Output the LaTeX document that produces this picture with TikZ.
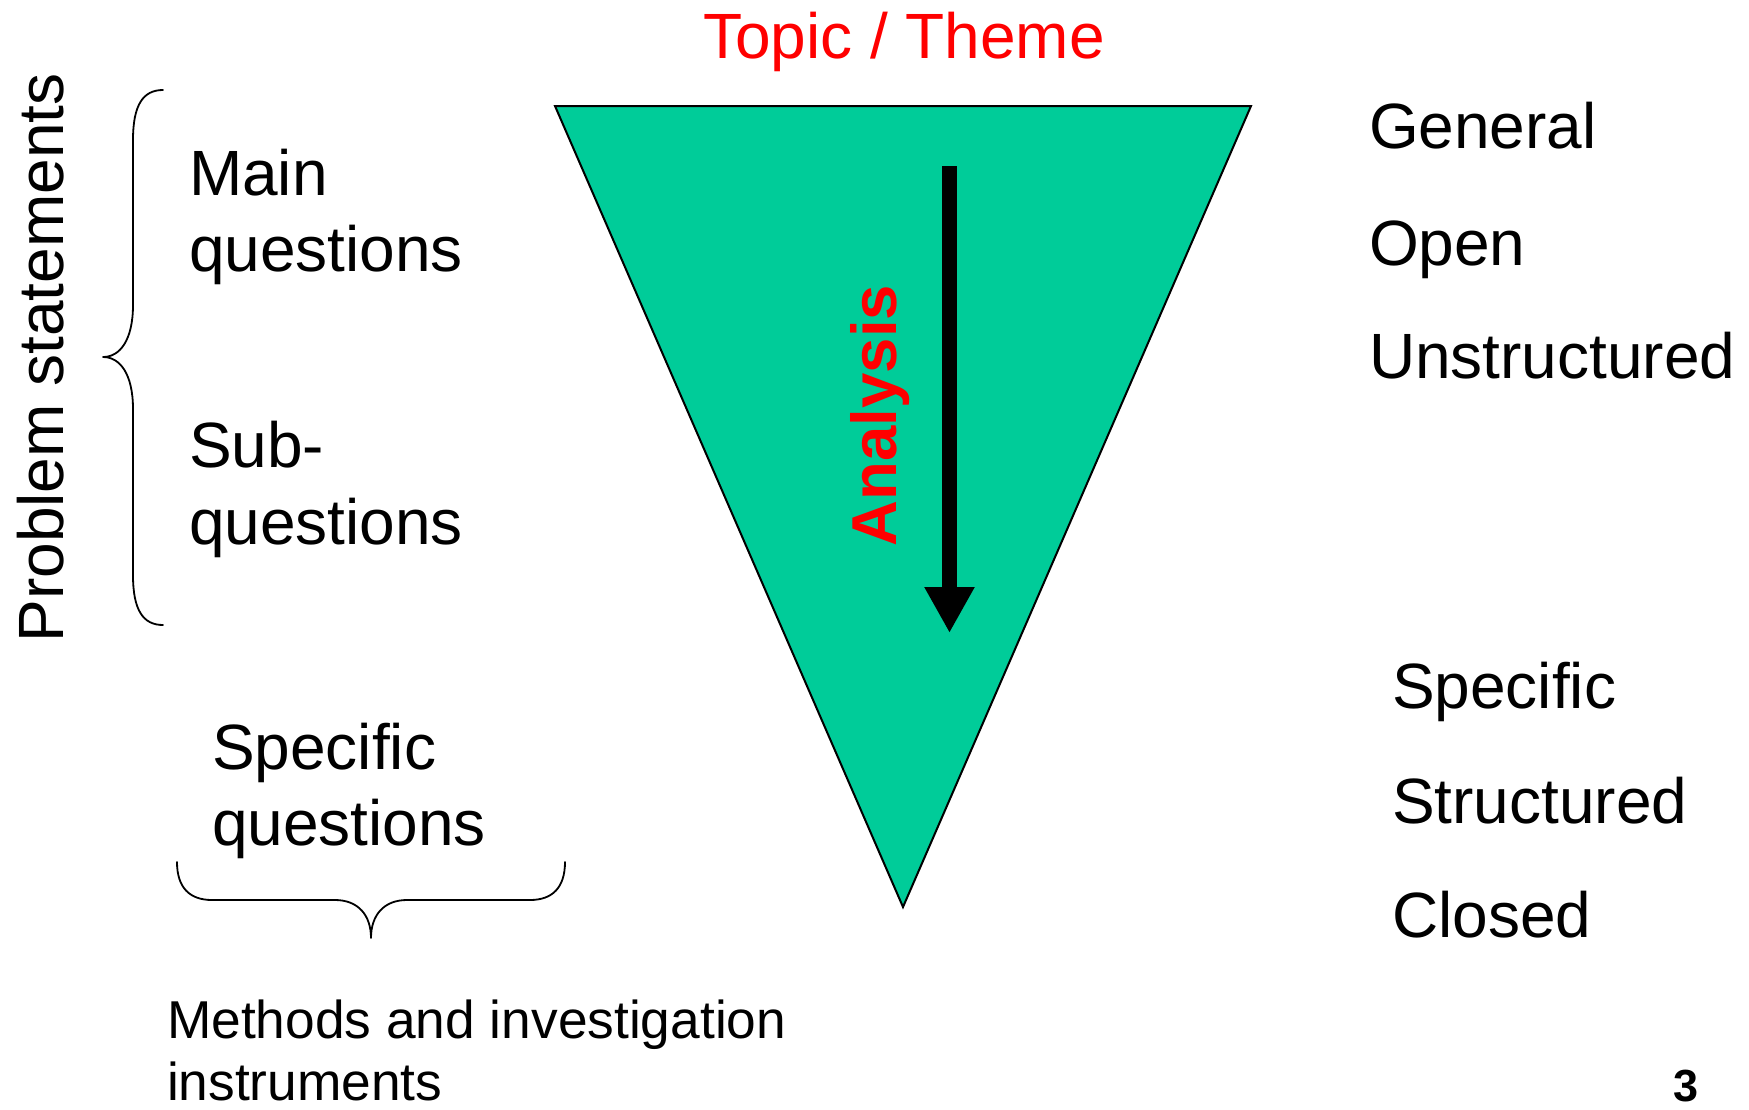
\documentclass[tikz,border=0pt]{standalone}
\usepackage{fontspec}
\setmainfont{Liberation Sans}
\usetikzlibrary{arrows.meta}
\definecolor{funnel}{RGB}{0,204,153}
\definecolor{topicred}{RGB}{255,0,0}
\begin{document}
\begin{tikzpicture}[x=1pt,y=-1pt,
  lbl/.style={inner sep=0pt, outer sep=0pt, anchor=base west, font=\fontsize{64}{76}\selectfont},
  smalllbl/.style={lbl, font=\fontsize{53.3}{62}\selectfont},
  bracestyle/.style={line width=1.8pt, line cap=round, line join=round},
]
\useasboundingbox (0,0) rectangle (1749,1109);

% title
\node[lbl, anchor=base, text=topicred] (topic) at (904,58) {Topic / Theme};

% funnel
\coordinate (tl) at (555,106);
\coordinate (tr) at (1251,106);
\coordinate (tb) at (903,907);
\draw[line width=2pt, fill=funnel, line join=miter] (tl) -- (tr) -- (tb) -- cycle;

% analysis arrow
\coordinate (arrtop) at (949.5,166);
\coordinate (arrtip) at (949.5,633);
\draw[line width=15.6pt, -{Triangle[width=47pt,length=46pt]}] (arrtop) -- (arrtip);
\node[lbl, anchor=base, rotate=90, font=\bfseries\fontsize{63.5}{75}\selectfont, text=topicred] (analysis) at (896,415.5) {Analysis};

% left side
\node[lbl, anchor=base, rotate=90] (problem) at (63,358) {Problem statements};
\coordinate (lbtop) at (163,90);
\coordinate (lbtip) at (103,357);
\coordinate (lbbot) at (163,625);
\draw[bracestyle] (lbtop) .. controls (143,90) and (133,105) .. (133,140) -- (133,305)
  .. controls (133,340) and (120,357) .. (lbtip)
  .. controls (120,357) and (133,374) .. (133,409) -- (133,575)
  .. controls (133,610) and (143,625) .. (lbbot);

\node[lbl] (main1) at (189,195) {Main};
\node[lbl] (main2) at (189,271) {questions};
\node[lbl] (sub1) at (189,467) {Sub-};
\node[lbl] (sub2) at (189,544) {questions};

\node[lbl] (spec1) at (212,769) {Specific};
\node[lbl] (spec2) at (212,845) {questions};

\coordinate (bbleft) at (177,862);
\coordinate (bbtip) at (371,938);
\coordinate (bbright) at (565,862);
\draw[bracestyle] (bbleft) .. controls (177,888) and (190,900) .. (212,900) -- (335,900)
  .. controls (358,900) and (371,915) .. (bbtip)
  .. controls (371,915) and (384,900) .. (407,900) -- (530,900)
  .. controls (552,900) and (565,888) .. (bbright);

\node[smalllbl] (meth1) at (167,1038) {Methods and investigation};
\node[smalllbl] (meth2) at (167,1100) {instruments};

% right side
\node[lbl] (general) at (1369,148) {General};
\node[lbl] (open) at (1369,265) {Open};
\node[lbl] (unstr) at (1369,378) {Unstructured};
\node[lbl] (specr) at (1392,708) {Specific};
\node[lbl] (structr) at (1392,823) {Structured};
\node[lbl] (closed) at (1392,937) {Closed};

% page number
\node[lbl, font=\bfseries\fontsize{45}{54}\selectfont] (pnum) at (1673,1101) {3};
\end{tikzpicture}
\end{document}
